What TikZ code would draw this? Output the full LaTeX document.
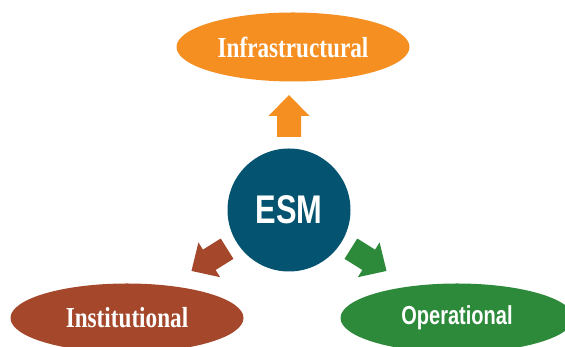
\documentclass[tikz,border=0pt]{standalone}
\usepackage{fontspec}
\usetikzlibrary{shapes.geometric}
\newfontfamily\labserif{Liberation Serif}[FakeStretch=0.8]
\newfontfamily\labsans{Liberation Sans}[FakeStretch=0.77]
\definecolor{infra}{RGB}{245,143,34}
\definecolor{insti}{RGB}{164,71,43}
\definecolor{opera}{RGB}{44,138,58}
\definecolor{esm}{RGB}{4,83,112}
\begin{document}
\begin{tikzpicture}[x=1pt,y=1pt,
		pole/.style={ellipse,minimum width=233pt,minimum height=69pt,inner sep=0pt,text=white,font=\fontsize{29}{31}\labserif\bfseries}]
	\useasboundingbox (0,0) rectangle (565,347);
	\node (Es) at (289,137) [circle,fill=esm,minimum size=123pt,inner sep=0pt,text=white,font=\fontsize{40}{42}\labsans\bfseries] {ESM};
	\node (In) at (293,300) [pole,fill=infra] {Infrastructural};
	\node (Is) at (127,29)  [pole,fill=insti] {Institutional};
	\node (Op) at (457,29)  [pole,fill=opera,font=\fontsize{26}{28}\labsans\bfseries] {Operational};
	\foreach \a/\c in {90/infra,212/insti,328/opera}
		\fill[\c,shift={(Es.center)},rotate=\a] (73,-12) -- (94,-12) -- (94,-20.5) -- (115,0) -- (94,20.5) -- (94,12) -- (73,12) -- cycle;
\end{tikzpicture}
\end{document}
